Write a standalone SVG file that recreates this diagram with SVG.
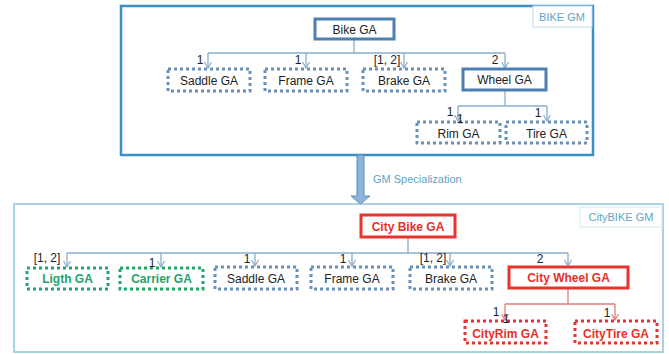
<svg xmlns="http://www.w3.org/2000/svg" width="669" height="354" viewBox="0 0 669 354">
<defs>
<style>
text{font-family:"Liberation Sans",Arial,sans-serif;font-size:12px;text-anchor:middle;fill:#222}
.gm{font-size:11px;fill:#5fa3c4}
.sub{fill:#fff;stroke:#6b90b8;stroke-width:3;stroke-dasharray:3 3}
.solid{fill:#fff;stroke:#4d7fb2;stroke-width:3}
.green{fill:#fff;stroke:#25a56b;stroke-width:3;stroke-dasharray:3 3}
.reddot{fill:#fff;stroke:#e83038;stroke-width:3;stroke-dasharray:3 3}
.redsolid{fill:#fff;stroke:#e8342c;stroke-width:3}
.rt{fill:#e8302a;font-weight:bold}
.gt{fill:#1fa36b;font-weight:bold}
.conn{fill:none;stroke:#8aaecb;stroke-width:1.3}
.rconn{fill:none;stroke:#e67a7a;stroke-width:1.3}
</style>
<marker id="ah" markerWidth="8" markerHeight="8" refX="6" refY="4" orient="auto" markerUnits="userSpaceOnUse"><path d="M0,0.5 L6,4 L0,7.5" fill="none" stroke="#8aaecb" stroke-width="1.2"/></marker>
<marker id="rah" markerWidth="8" markerHeight="8" refX="6" refY="4" orient="auto" markerUnits="userSpaceOnUse"><path d="M0,0.5 L6,4 L0,7.5" fill="none" stroke="#e67a7a" stroke-width="1.2"/></marker>
</defs>
<rect width="669" height="354" fill="#fff"/>

<!-- containers -->
<g id="bike-gm">
<rect x="121" y="6" width="472" height="149" fill="none" stroke="#3a8fc8" stroke-width="2.5"/>
<rect x="533" y="6" width="59" height="21" fill="#fff" stroke="#bcdbe8" stroke-width="1"/>
<text class="gm" x="562" y="21">BIKE GM</text>
</g>
<g id="citybike-gm">
<rect x="14" y="204" width="649" height="148" fill="none" stroke="#a9d2e4" stroke-width="2"/>
<rect x="580" y="207" width="82" height="20" fill="#fff" stroke="#d5e8f0" stroke-width="1"/>
<text class="gm" x="621" y="221">CityBIKE GM</text>
</g>

<g id="specialization">
<path d="M357,155 L364,155 L364,196 L370,196 L360.5,204 L351,196 L357,196 Z" fill="#8db5d9" stroke="#5c8ec0" stroke-width="1"/>
<text class="gm" x="373" y="183" style="text-anchor:start">GM Specialization</text>
</g>

<!-- connectors -->
<g id="connectors">
<path class="conn" d="M354,39 V53 M208,53 H505"/>
<path class="conn" d="M208,53 V68" marker-end="url(#ah)"/>
<path class="conn" d="M306,53 V68" marker-end="url(#ah)"/>
<path class="conn" d="M404,53 V68" marker-end="url(#ah)"/>
<path class="conn" d="M505,53 V68" marker-end="url(#ah)"/>
<path class="conn" d="M505,90 V106 M458,106 H547"/>
<path class="conn" d="M458,106 V121" marker-end="url(#ah)"/>
<path class="conn" d="M547,106 V121" marker-end="url(#ah)"/>

<path class="conn" d="M408,237 V253 M67,253 H568"/>
<path class="conn" d="M67,253 V267" marker-end="url(#ah)"/>
<path class="conn" d="M161,253 V267" marker-end="url(#ah)"/>
<path class="conn" d="M255,253 V266" marker-end="url(#ah)"/>
<path class="conn" d="M352,253 V266" marker-end="url(#ah)"/>
<path class="conn" d="M450,253 V266" marker-end="url(#ah)"/>
<path class="conn" d="M568,253 V266" marker-end="url(#ah)"/>
<path class="rconn" d="M568,288 V304 M505,304 H615"/>
<path class="rconn" d="M505,304 V320" marker-end="url(#rah)"/>
<path class="rconn" d="M615,304 V320" marker-end="url(#rah)"/>
</g>

<!-- top nodes -->
<g id="bike-ga"><rect class="solid" x="315" y="19" width="79" height="20"/><text x="354.5" y="33.5">Bike GA</text></g>
<g id="saddle-ga"><rect class="sub" x="168" y="69" width="82" height="22"/><text x="209" y="84.5">Saddle GA</text></g>
<g id="frame-ga"><rect class="sub" x="265" y="69" width="82" height="22"/><text x="306" y="84.5">Frame GA</text></g>
<g id="brake-ga"><rect class="sub" x="363" y="69" width="82" height="22"/><text x="404" y="84.5">Brake GA</text></g>
<g id="wheel-ga"><rect class="solid" x="463" y="69" width="83" height="21"/><text x="504.5" y="84">Wheel GA</text></g>
<g id="rim-ga"><rect class="sub" x="417" y="122" width="83" height="21"/><text x="458.5" y="138">Rim GA</text></g>
<g id="tire-ga"><rect class="sub" x="506" y="122" width="81" height="21"/><text x="546.5" y="138">Tire GA</text></g>

<!-- bottom nodes -->
<g id="city-bike-ga"><rect class="redsolid" x="361" y="215" width="94" height="22"/><text class="rt" x="408" y="231">City Bike GA</text></g>
<g id="ligth-ga"><rect class="green" x="27" y="268" width="81" height="21"/><text class="gt" x="67.5" y="283">Ligth GA</text></g>
<g id="carrier-ga"><rect class="green" x="120" y="268" width="83" height="21"/><text class="gt" x="161.5" y="283">Carrier GA</text></g>
<g id="city-saddle-ga"><rect class="sub" x="215" y="267" width="82" height="22"/><text x="256" y="282.5">Saddle GA</text></g>
<g id="city-frame-ga"><rect class="sub" x="311" y="267" width="82" height="22"/><text x="352" y="282.5">Frame GA</text></g>
<g id="city-brake-ga"><rect class="sub" x="410" y="267" width="82" height="22"/><text x="451" y="282.5">Brake GA</text></g>
<g id="city-wheel-ga"><rect class="redsolid" x="509" y="267" width="119" height="21"/><text class="rt" x="568.5" y="282">City Wheel GA</text></g>
<g id="cityrim-ga"><rect class="reddot" x="465" y="321" width="81" height="22"/><text class="rt" x="505.5" y="337.5">CityRim GA</text></g>
<g id="citytire-ga"><rect class="reddot" x="575" y="321" width="82" height="22"/><text class="rt" x="616" y="337.5">CityTire GA</text></g>

<!-- connector labels -->
<g id="connector-labels">
<text x="200" y="64">1</text>
<text x="298" y="64">1</text>
<text x="387" y="64">[1, 2]</text>
<text x="495" y="64">2</text>
<text x="450" y="116">1</text>
<text x="460" y="123">1</text>
<text x="538" y="117">1</text>

<text x="47" y="262">[1, 2]</text>
<text x="152" y="267">1</text>
<text x="247" y="263">1</text>
<text x="343" y="263">1</text>
<text x="433" y="262">[1, 2]</text>
<text x="540" y="263">2</text>
<text x="496" y="316">1</text>
<text x="506" y="323">1</text>
<text x="607" y="317">1</text>
</g>
</svg>
